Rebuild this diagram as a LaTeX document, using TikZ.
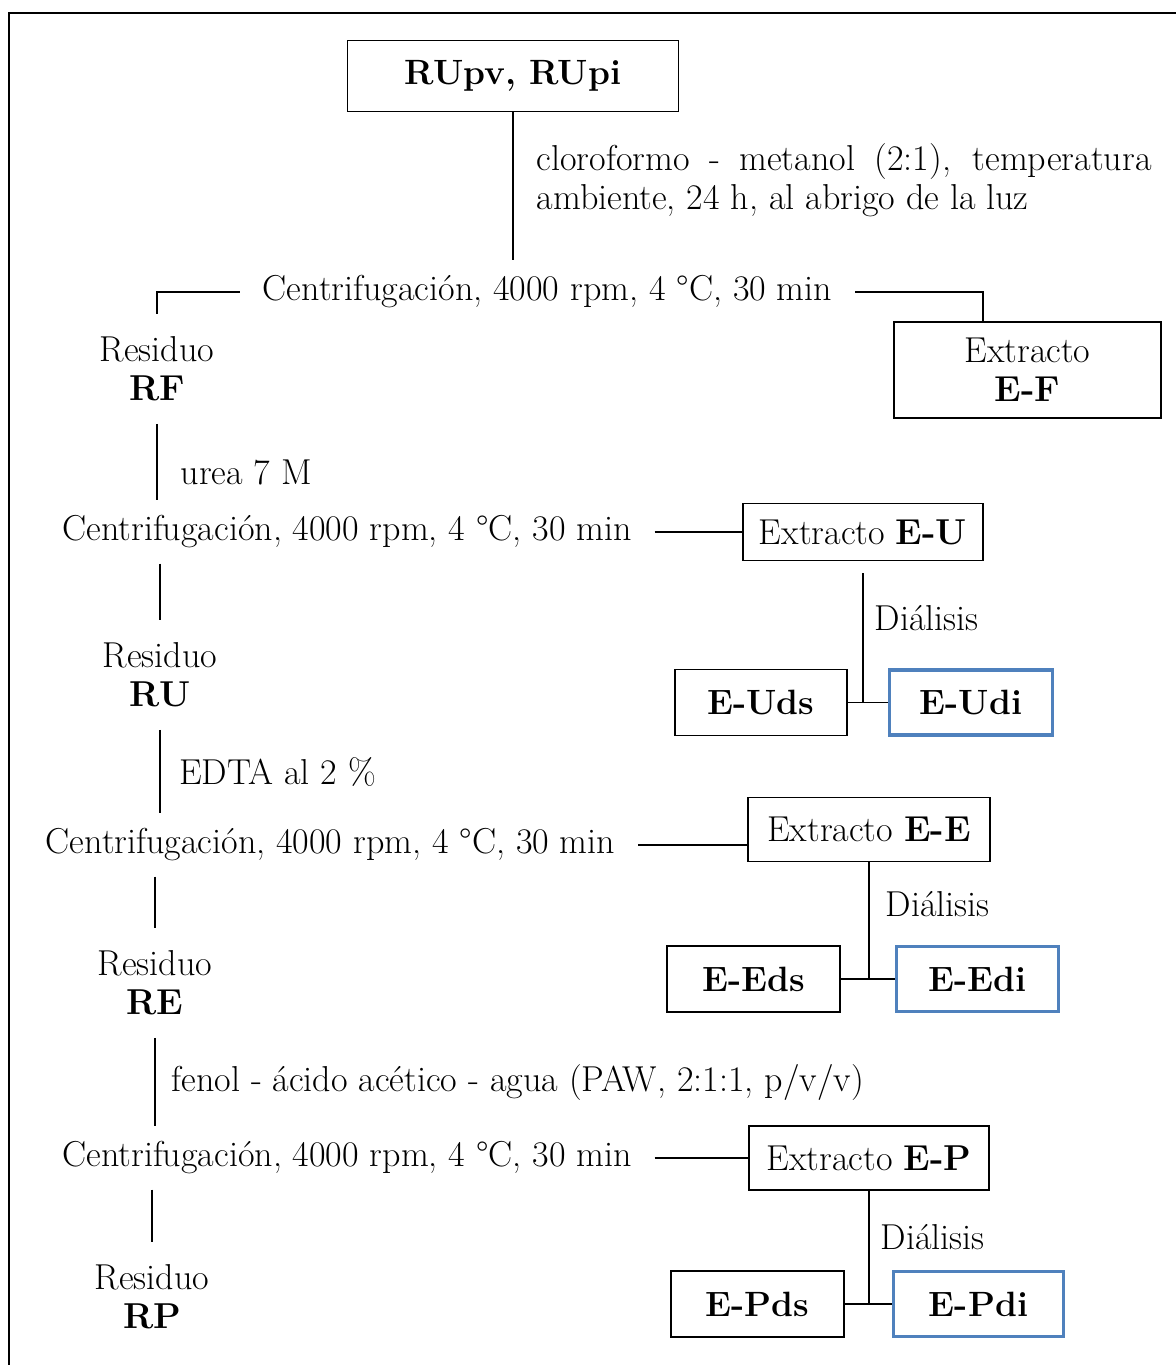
\documentclass[tikz,border=0pt]{standalone}
\usepackage{fontspec}
\usetikzlibrary{
    positioning
}
\definecolor{dialblue}{RGB}{79,129,189}
\hyphenpenalty=10000
\exhyphenpenalty=10000
\tikzset{
    % Box styles
    sample box/.style={
        draw,
        line width=0.8pt,
        rectangle,
        minimum width=6.62cm,
        minimum height=1.42cm,
        font=\fontsize{20}{22}\selectfont\bfseries,
        align=center
    },
    extract box/.style={
        draw,
        line width=0.8pt,
        rectangle,
        minimum width=4.8cm,
        minimum height=1.28cm,
        align=center
    },
    ds box/.style={
        draw,
        line width=1pt,
        rectangle,
        minimum width=3.45cm,
        minimum height=1.32cm,
        font=\fontsize{20}{22}\selectfont\bfseries,
        align=center
    },
    di box/.style={
        draw=dialblue,
        line width=1.8pt,
        rectangle,
        minimum width=3.25cm,
        minimum height=1.3cm,
        font=\fontsize{20}{22}\selectfont\bfseries,
        align=center
    },
    % Text styles
    centrif text/.style={
        inner xsep=0.45cm,
        inner ysep=0.3cm
    },
    residue text/.style={
        align=center,
        inner ysep=0.45cm
    },
    % Line styles
    link line/.style={
        draw,
        line width=0.9pt
    },
    frame line/.style={
        draw,
        line width=1.1pt
    }
}

\begin{document}
\begin{tikzpicture}[on grid, font=\fontsize{20.5}{22}\selectfont]
        \useasboundingbox (0,0) rectangle (23.52,-27.3);
        \draw[frame line] (0.18,-27.3) |- (23.52,-0.26);

        % Nodes
        \node[sample box] (src) at (10.26,-1.52) {RUpv, RUpi};
        \node[centrif text, below right=4.32cm and 0.69cm of src] (c1) {Centrifugación, 4000 rpm, 4 °C, 30 min};
        \node[residue text, below left=1.54cm and 7.81cm of c1] (rf) {Residuo\\\textbf{RF}};
        \node[extract box, minimum width=5.34cm, minimum height=1.92cm, below right=1.56cm and 9.6cm of c1] (ef) {Extracto\\\textbf{E-F}};

        \node[centrif text, below right=3.26cm and 3.8cm of rf] (c2) {Centrifugación, 4000 rpm, 4 °C, 30 min};
        \node[extract box, minimum height=1.14cm, right=10.32cm of c2] (eu) {Extracto \textbf{E-U}};
        \node[ds box, below left=3.41cm and 2.04cm of eu] (euds) {E-Uds};
        \node[di box, right=4.2cm of euds] (eudi) {E-Udi};
        \node[residue text, below left=2.86cm and 3.74cm of c2] (ru) {Residuo\\\textbf{RU}};

        \node[centrif text, below right=3.4cm and 3.41cm of ru] (c3) {Centrifugación, 4000 rpm, 4 °C, 30 min};
        \node[extract box, minimum width=4.84cm, above right=0.31cm and 10.77cm of c3] (ee) {Extracto \textbf{E-E}};
        \node[ds box, below left=2.99cm and 2.31cm of ee] (eeds) {E-Eds};
        \node[di box, right=4.48cm of eeds] (eedi) {E-Edi};
        \node[residue text, below left=2.76cm and 3.51cm of c3] (re) {Residuo\\\textbf{RE}};

        \node[centrif text, below right=3.5cm and 3.84cm of re] (c4) {Centrifugación, 4000 rpm, 4 °C, 30 min};
        \node[extract box, right=10.44cm of c4] (ep) {Extracto \textbf{E-P}};
        \node[ds box, below left=2.92cm and 2.23cm of ep] (epds) {E-Pds};
        \node[di box, minimum width=3.4cm, right=4.42cm of epds] (epdi) {E-Pdi};
        \node[residue text, below left=2.78cm and 3.9cm of c4] (rp) {Residuo\\\textbf{RP}};

        % Edges
        \draw[link line] (src.south) -- node[right=0.34cm, pos=0.46, text width=12.3cm, align=justify] {cloroformo - metanol (2:1), temperatura ambiente, 24 h, al abrigo de la luz} (src.south |- c1.north);
        \draw[link line] (c1.west) -| (rf.north);
        \draw[link line] (c1.east) -| ([xshift=-0.89cm]ef.north);
        \draw[link line] (rf.south) -- node[right=0.34cm, pos=0.64] {urea 7 M} (rf.south |- c2.north);

        \draw[link line] (c2.east) -- (c2.east -| eu.west);
        \draw[link line] ([yshift=-0.24cm]eu.south) -- node[right=0.1cm, pos=0.35] {Diálisis} (eu.south |- euds.east);
        \draw[link line] (euds) -- (eudi);
        \draw[link line] (ru.north |- c2.south) -- (ru.north);
        \draw[link line] (ru.south) -- node[right=0.25cm] {EDTA al 2 \%} (ru.south |- c3.north);

        \draw[link line] (c3.east) -- (c3.east -| ee.west);
        \draw[link line] (ee.south) -- node[right=0.2cm, pos=0.36] {Diálisis} (ee.south |- eeds.east);
        \draw[link line] (eeds) -- (eedi);
        \draw[link line] (re.north |- c3.south) -- (re.north);
        \draw[link line] (re.south) -- node[right=0.2cm] {fenol - ácido acético - agua (PAW, 2:1:1, p/v/v)} (re.south |- c4.north);

        \draw[link line] (c4.east) -- (c4.east -| ep.west);
        \draw[link line] (ep.south) -- node[right=0.1cm, pos=0.41] {Diálisis} (ep.south |- epds.east);
        \draw[link line] (epds) -- (epdi);
        \draw[link line] (rp.north |- c4.south) -- (rp.north);
    \end{tikzpicture}
\end{document}
